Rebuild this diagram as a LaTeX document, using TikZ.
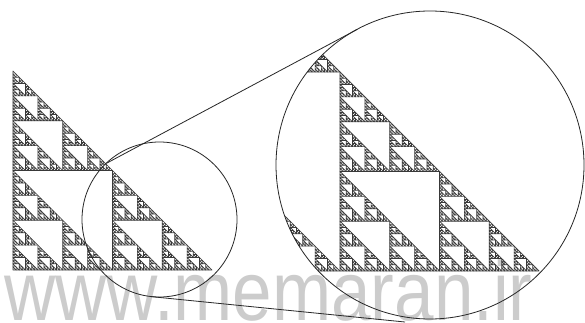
\documentclass[tikz,border=0pt]{standalone}
\usepackage{fontspec}
\newfontfamily\wmfont{Liberation Sans}
\newcommand\sierp[4]{%
  \ifnum#4=0\relax
    \draw[tri] (#1,#2) -- ++(#3,0) -- ++(-#3,-#3) -- cycle;
  \else
    \begingroup
      \pgfmathsetmacro\sh{#3/2}%
      \pgfmathsetmacro\sxm{#1+\sh}%
      \pgfmathsetmacro\sym{#2-\sh}%
      \pgfmathtruncatemacro\sd{#4-1}%
      \edef\snext{\noexpand\sierp{#1}{#2}{\sh}{\sd}\noexpand\sierp{\sxm}{#2}{\sh}{\sd}\noexpand\sierp{#1}{\sym}{\sh}{\sd}}%
      \snext
    \endgroup
  \fi}
\tikzset{
  tri/.style={draw=black!78, line width=0.7pt, line join=round},
  lens/.style={draw=black!85, line width=0.8pt},
  link/.style={draw=black!85, line width=0.8pt},
  watermark/.style={text=black!20, font=\wmfont\fontsize{84}{84}\selectfont, inner sep=0pt, anchor=base west, xscale=0.845}
}
\begin{document}
\begin{tikzpicture}[x=1pt,y=-1pt]
\useasboundingbox (0,0) rectangle (585,323);
\fill[white] (0,0) rectangle (585,323);
% watermark
\node[watermark] (wm) at (4,320.5) {www.memaran.ir};
% original triangle
\sierp{13}{270}{199}{6}
% magnified view
\coordinate (bigc) at (430,165);
\coordinate (smallc) at (159.5,219.5);
\begin{scope}
  \clip (bigc) circle[radius=154];
  \sierp{141}{271}{398}{7}
\end{scope}
% lenses
\node[lens, circle, minimum size=155pt, inner sep=0pt] (small) at (smallc) {};
\node[lens, circle, minimum size=308pt, inner sep=0pt] (big) at (bigc) {};
% connectors
\coordinate (u1) at (107,163);
\coordinate (u2) at (357.4,29.3);
\coordinate (l1) at (150,296.5);
\coordinate (l2) at (405,322);
\draw[link] (u1) -- (u2);
\draw[link] (l1) -- (l2);
\end{tikzpicture}
\end{document}
